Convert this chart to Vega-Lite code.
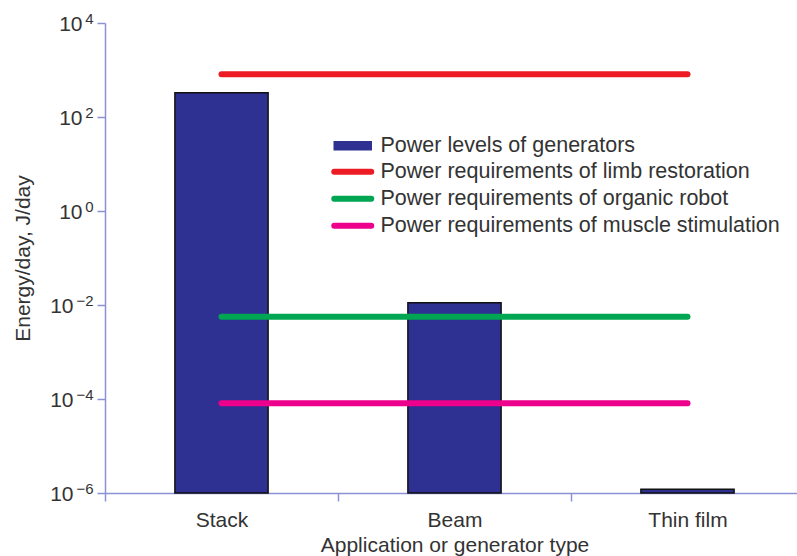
{
  "$schema": "https://vega.github.io/schema/vega-lite/v6.json",
  "autosize": {"type": "none"},
  "padding": {"left": 105, "top": 23, "right": 0, "bottom": 63},
  "width": 692,
  "height": 470,
  "config": {
    "view": {"stroke": null},
    "font": "Liberation Sans",
    "axis": {
      "domainColor": "#8C91D4",
      "tickColor": "#8C91D4",
      "domainWidth": 1.5,
      "tickWidth": 1.5,
      "labelFont": "Liberation Sans",
      "titleFont": "Liberation Sans",
      "labelFontSize": 21,
      "titleFontSize": 21,
      "titleFontWeight": "normal",
      "labelColor": "#333333",
      "titleColor": "#333333",
      "grid": false
    }
  },
  "datasets": {
    "bars": [
      {"type": "Stack", "energy": 330, "series": "Power levels of generators"},
      {"type": "Beam", "energy": 0.0112, "series": "Power levels of generators"},
      {"type": "Thin film", "energy": 1.2e-6, "series": "Power levels of generators"}
    ],
    "lines": [
      {"type": "Stack", "energy": 810, "series": "Power requirements of limb restoration"},
      {"type": "Beam", "energy": 810, "series": "Power requirements of limb restoration"},
      {"type": "Thin film", "energy": 810, "series": "Power requirements of limb restoration"},
      {"type": "Stack", "energy": 0.0056, "series": "Power requirements of organic robot"},
      {"type": "Beam", "energy": 0.0056, "series": "Power requirements of organic robot"},
      {"type": "Thin film", "energy": 0.0056, "series": "Power requirements of organic robot"},
      {"type": "Stack", "energy": 8.1e-5, "series": "Power requirements of muscle stimulation"},
      {"type": "Beam", "energy": 8.1e-5, "series": "Power requirements of muscle stimulation"},
      {"type": "Thin film", "energy": 8.1e-5, "series": "Power requirements of muscle stimulation"}
    ]
  },
  "layer": [
    {
      "encoding": {
        "x": {
          "field": "type",
          "type": "nominal",
          "sort": ["Stack", "Beam", "Thin film"],
          "scale": {"range": [0, 699], "paddingInner": 0.6, "paddingOuter": 0.3},
          "axis": {
            "title": "Application or generator type",
            "labelAngle": 0,
            "tickSize": 8,
            "tickOffset": -116.5,
            "labelOffset": 116.5,
            "labelPadding": 8,
            "titlePadding": 4
          }
        },
        "y": {
          "field": "energy",
          "type": "quantitative",
          "scale": {"type": "log", "domain": [1e-6, 10000], "nice": false},
          "axis": {
            "title": "Energy/day, J/day",
            "values": [1e-6, 0.0001, 0.01, 1, 100, 10000],
            "labelExpr": "datum.value >= 0.5 ? '10' : ''",
            "tickSize": 8,
            "labelPadding": 15,
            "labelOffset": 1.5,
            "titlePadding": 25
          }
        },
        "color": {
          "field": "series",
          "type": "nominal",
          "scale": {
            "domain": [
              "Power levels of generators",
              "Power requirements of limb restoration",
              "Power requirements of organic robot",
              "Power requirements of muscle stimulation"
            ],
            "range": ["#2E3192", "#ED1C24", "#00A651", "#EC008C"]
          },
          "legend": {
            "title": null,
            "orient": "none",
            "legendX": 237,
            "legendY": 112,
            "padding": 0,
            "symbolType": "stroke",
            "symbolSize": 1369,
            "symbolStrokeWidth": 6,
            "labelFont": "Liberation Sans",
            "labelFontSize": 21.5,
            "labelColor": "#333333",
            "labelLimit": 600,
            "labelOffset": 17,
            "rowPadding": 2,
            "encode": {
              "symbols": {
                "update": {
                  "shape": {"signal": "datum.index == 0 ? 'M-1,-0.22H1V0.22H-1Z' : 'stroke'"},
                  "fill": {"signal": "datum.index == 0 ? '#2E3192' : 'transparent'"},
                  "stroke": {"signal": "datum.index == 0 ? '#111111' : scale('color', datum.value)"},
                  "strokeWidth": {"signal": "datum.index == 0 ? 1.5 : 6"},
                  "strokeCap": {"value": "round"}
                }
              }
            }
          }
        }
      },
      "layer": [
        {
          "data": {"name": "bars"},
          "mark": {"type": "bar", "stroke": "#111111", "strokeWidth": 1.5},
          "encoding": {"y2": {"datum": 1e-6}}
        },
        {
          "data": {"name": "lines"},
          "mark": {"type": "line", "strokeWidth": 6, "strokeCap": "round"}
        }
      ]
    },
    {
      "data": {"name": "bars"},
      "mark": {"type": "rule", "opacity": 0},
      "encoding": {
        "y": {
          "field": "energy",
          "type": "quantitative",
          "scale": {"type": "log", "domain": [1e-6, 10000], "nice": false},
          "axis": {
            "orient": "left",
            "title": null,
            "domain": false,
            "tickOpacity": 0,
            "tickSize": 8,
            "labelPadding": 24,
            "labelOffset": 1,
            "values": [1e-6, 0.0001, 0.01, 1, 100, 10000],
            "labelExpr": "datum.value < 0.5 ? '10' : ''"
          }
        }
      }
    },
    {
      "data": {"name": "bars"},
      "mark": {"type": "rule", "opacity": 0},
      "encoding": {
        "y": {
          "field": "energy",
          "type": "quantitative",
          "scale": {"type": "log", "domain": [1e-6, 10000], "nice": false},
          "axis": {
            "orient": "left",
            "title": null,
            "domain": false,
            "tickOpacity": 0,
            "tickSize": 8,
            "labelPadding": 4,
            "labelFontSize": 15,
            "labelOffset": -5,
            "values": [1e-6, 0.0001, 0.01, 1, 100, 10000],
            "labelExpr": "datum.value < 1e-5 ? '−6' : datum.value < 1e-3 ? '−4' : datum.value < 0.1 ? '−2' : datum.value < 10 ? '0' : datum.value < 1000 ? '2' : '4'"
          }
        }
      }
    }
  ],
  "resolve": {"scale": {"y": "independent"}}
}
